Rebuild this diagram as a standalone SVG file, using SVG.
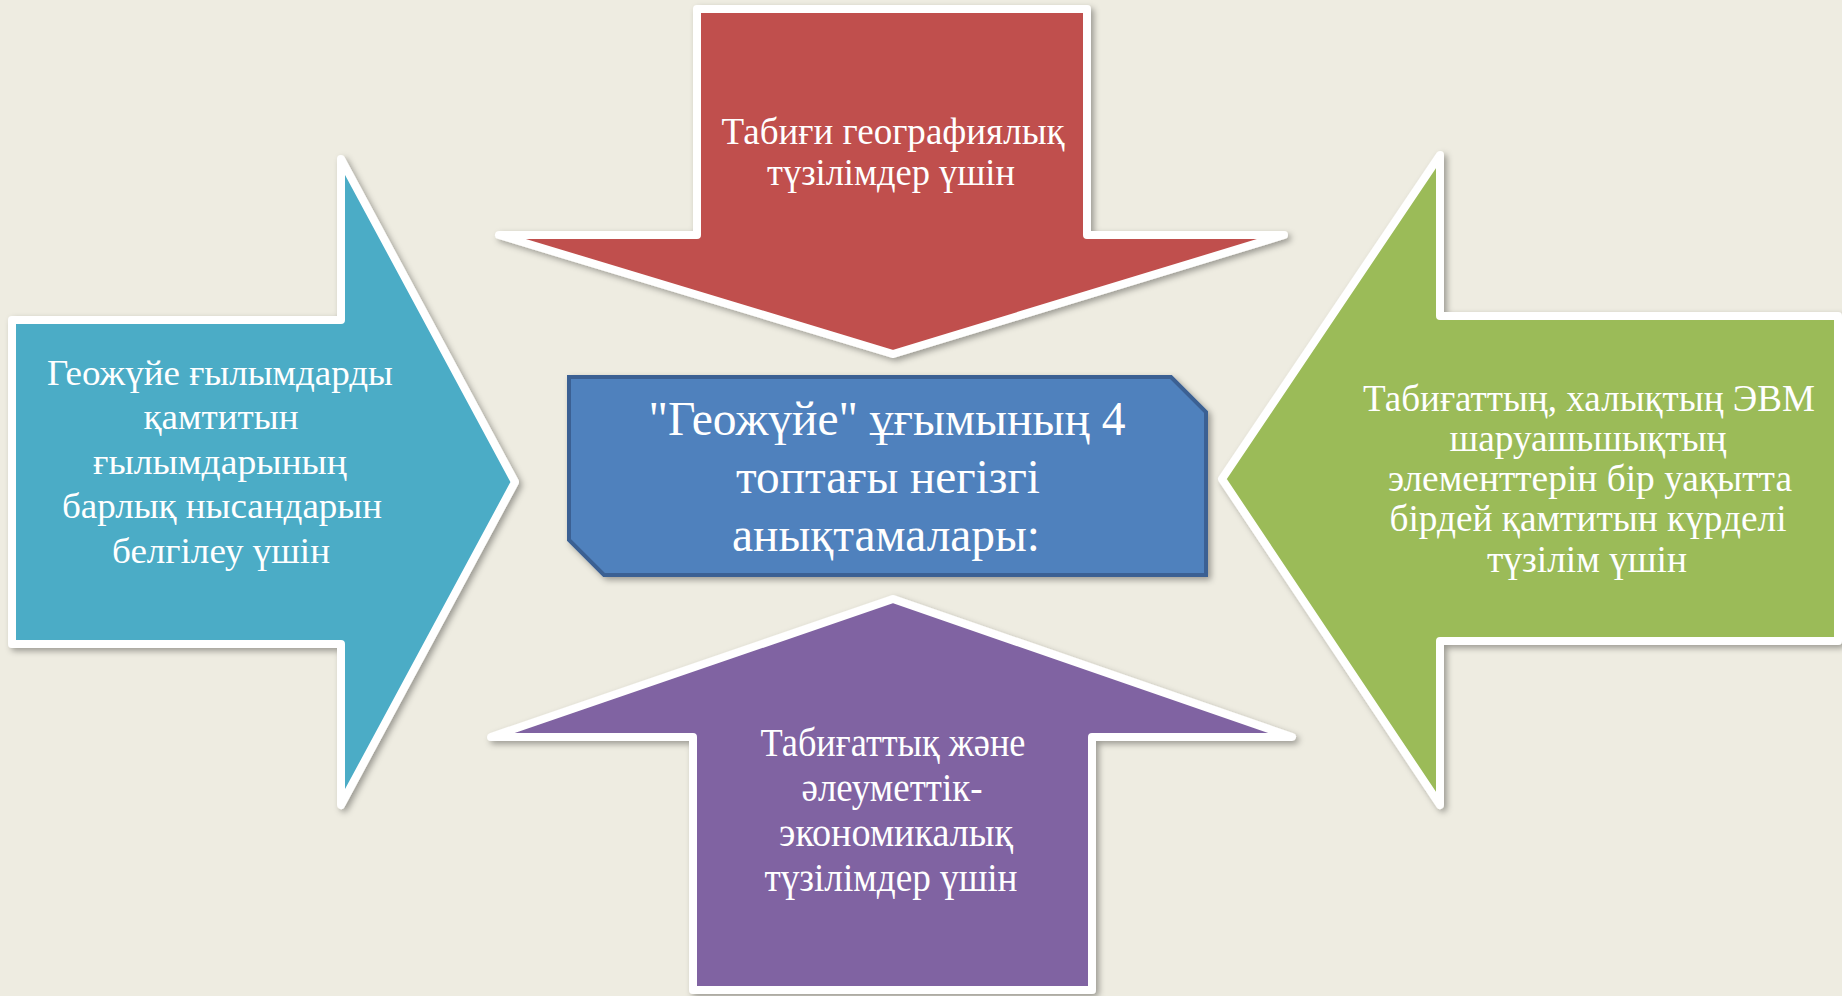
<svg xmlns="http://www.w3.org/2000/svg" width="1842" height="996" viewBox="0 0 1842 996">
<defs>
<filter id="sh" x="-10%" y="-10%" width="120%" height="120%">
<feDropShadow dx="3" dy="3" stdDeviation="3" flood-color="#000" flood-opacity="0.35"/>
</filter>
<style>
.arr{stroke:#fff;stroke-width:8;stroke-linejoin:round;filter:url(#sh)}
.t{font-family:"Liberation Serif","Times New Roman","DejaVu Serif",serif;fill:#fff;text-anchor:middle}
</style>
</defs>
<rect width="1842" height="996" fill="#EEECE1"/>
<g id="connectors"></g>
<g id="node-top">
<path class="arr" fill="#C0504D" d="M697,9 L1087,9 L1087,235 L1284,235 L893,354 L499,235 L697,235 Z"/>
<text class="t" font-size="37"><tspan x="893" y="144" textLength="343" lengthAdjust="spacingAndGlyphs">Табиғи географиялық</tspan><tspan x="891" y="185" textLength="248" lengthAdjust="spacingAndGlyphs">түзілімдер үшін</tspan></text>
</g>
<g id="node-left">
<path class="arr" fill="#4BACC6" d="M12,320 L341,320 L341,159 L515,482 L341,805 L341,644 L12,644 Z"/>
<text class="t" font-size="36"><tspan x="220" y="385" textLength="346" lengthAdjust="spacingAndGlyphs">Геожүйе ғылымдарды</tspan><tspan x="221" y="429" textLength="155" lengthAdjust="spacingAndGlyphs">қамтитын</tspan><tspan x="220" y="474" textLength="254" lengthAdjust="spacingAndGlyphs">ғылымдарының</tspan><tspan x="222" y="518" textLength="320" lengthAdjust="spacingAndGlyphs">барлық нысандарын</tspan><tspan x="221" y="563" textLength="218" lengthAdjust="spacingAndGlyphs">белгілеу үшін</tspan></text>
</g>
<g id="node-right">
<path class="arr" fill="#9BBB59" d="M1838,316 L1440,316 L1440,155 L1222,479 L1440,805 L1440,641 L1838,641 Z"/>
<text class="t" font-size="38"><tspan x="1589" y="411" textLength="452" lengthAdjust="spacingAndGlyphs">Табиғаттың, халықтың ЭВМ</tspan><tspan x="1588" y="451" textLength="277" lengthAdjust="spacingAndGlyphs">шаруашьшықтың</tspan><tspan x="1590" y="491" textLength="404" lengthAdjust="spacingAndGlyphs">элементтерін бір уақытта</tspan><tspan x="1588" y="531" textLength="397" lengthAdjust="spacingAndGlyphs">бірдей қамтитын күрделі</tspan><tspan x="1587" y="572" textLength="200" lengthAdjust="spacingAndGlyphs">түзілім үшін</tspan></text>
</g>
<g id="node-bottom">
<path class="arr" fill="#8064A2" d="M893,599 L1292,737 L1092,737 L1092,990 L693,990 L693,737 L491,737 Z"/>
<text class="t" font-size="40"><tspan x="893" y="756" textLength="265" lengthAdjust="spacingAndGlyphs">Табиғаттық және</tspan><tspan x="892" y="801" textLength="181" lengthAdjust="spacingAndGlyphs">әлеуметтік-</tspan><tspan x="896" y="846" textLength="234" lengthAdjust="spacingAndGlyphs">экономикалық</tspan><tspan x="891" y="891" textLength="253" lengthAdjust="spacingAndGlyphs">түзілімдер үшін</tspan></text>
</g>
<g id="node-center">
<path fill="#4F81BD" stroke="#3A6093" stroke-width="4" filter="url(#sh)" d="M569,377 L1171,377 L1206,412 L1206,575 L604,575 L569,540 Z"/>
<text class="t" font-size="48"><tspan x="887" y="435" textLength="477" lengthAdjust="spacingAndGlyphs">"Геожүйе" ұғымының 4</tspan><tspan x="888" y="493" textLength="304" lengthAdjust="spacingAndGlyphs">топтағы негізгі</tspan><tspan x="886" y="551" textLength="308" lengthAdjust="spacingAndGlyphs">анықтамалары:</tspan></text>
</g>
</svg>
